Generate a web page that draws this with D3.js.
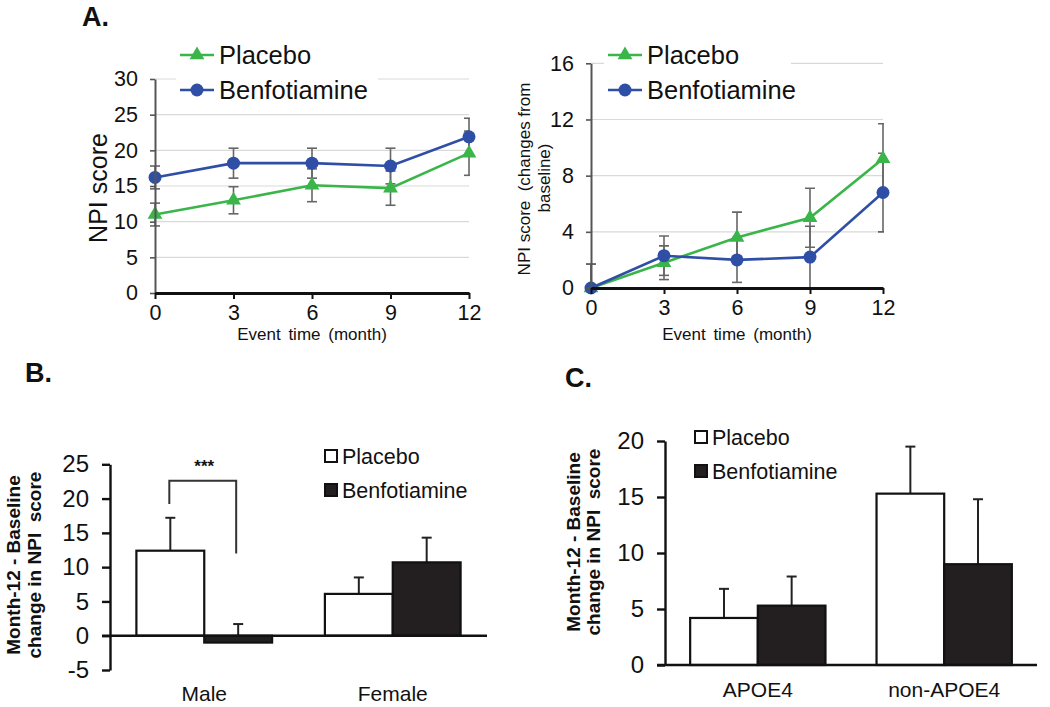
<!DOCTYPE html>
<html>
<head>
<meta charset="utf-8">
<script src="https://cdn.jsdelivr.net/npm/d3@7"></script>
<style>
  html, body { margin: 0; padding: 0; background: #fff; }
  svg { display: block; }
  text { font-family: "Liberation Sans", Arial, Helvetica, sans-serif; fill: #111; }
</style>
</head>
<body>
<svg id="chart" width="1050" height="707"></svg>
<script>
// ---------------- data ----------------
const months = [0, 3, 6, 9, 12];
const seriesNames = ["Placebo", "Benfotiamine"];

// Panel A (left): NPI score
const scorePlacebo = [11.0, 13.0, 15.1, 14.7, 19.6];
const scorePlaceboErr = [1.6, 1.9, 2.3, 2.4, 3.1];
const scoreBenfo = [16.2, 18.2, 18.2, 17.8, 21.9];
const scoreBenfoErr = [1.6, 2.1, 2.1, 2.5, 2.6];
const scoreTicks = [0, 5, 10, 15, 20, 25, 30];

// Panel A (right): change from baseline
const changePlacebo = [0, 1.8, 3.6, 5.0, 9.2];
const changePlaceboErr = [1.7, 1.2, 1.8, 2.1, 2.5];
const changeBenfo = [0, 2.3, 2.0, 2.2, 6.8];
const changeBenfoErr = [1.7, 1.4, 1.6, 2.2, 2.8];
const changeTicks = [0, 4, 8, 12, 16];

// Panel B: by sex
const sexGroups = ["Male", "Female"];
const sexPlacebo = [12.4, 6.1];
const sexPlaceboErr = [4.8, 2.4];
const sexBenfo = [-1.0, 10.7];
const sexBenfoErr = [2.7, 3.6];
const sexTicks = [-5, 0, 5, 10, 15, 20, 25];

// Panel C: by APOE4 status
const apoeGroups = ["APOE4", "non-APOE4"];
const apoePlacebo = [4.2, 15.3];
const apoePlaceboErr = [2.6, 4.2];
const apoeBenfo = [5.3, 9.0];
const apoeBenfoErr = [2.6, 5.8];
const apoeTicks = [0, 5, 10, 15, 20];

// ---------------- drawing ----------------
const FONT = '"Liberation Sans", Arial, Helvetica, sans-serif';
const GREEN = "#3ab54a", BLUE = "#2f4ea6", ERR = "#666";
const plain = d => String(d);
const svg = d3.select("#chart");

// panel letters
[["A.", 82, 26], ["B.", 25, 382], ["C.", 565, 387]].forEach(([t, x, y]) => {
  svg.append("text").attr("x", x).attr("y", y).attr("font-size", 27)
    .attr("font-weight", "bold").text(t);
});

function linePanel(cfg) {
  const g = svg.append("g");
  const x = d3.scaleLinear().domain([0, 12]).range(cfg.xr);
  const y = d3.scaleLinear().domain(cfg.ydom).range(cfg.yr);
  const id = "clip" + cfg.key;
  svg.append("defs").append("clipPath").attr("id", id).append("rect")
    .attr("x", cfg.xr[0] - 20).attr("y", cfg.yr[1] - 10)
    .attr("width", cfg.xr[1] - cfg.xr[0] + 21).attr("height", cfg.yr[0] - cfg.yr[1] + 10);

  // gridlines
  g.append("g").selectAll("line").data(cfg.ticks.filter(d => d !== 0)).join("line")
    .attr("x1", cfg.xr[0]).attr("x2", cfg.xr[1])
    .attr("y1", d => y(d)).attr("y2", d => y(d))
    .attr("stroke", "#d9d9d9").attr("stroke-width", 1.2);

  // legend background (covers gridline)
  g.append("rect").attr("x", cfg.legX - 4).attr("y", 34)
    .attr("width", cfg.legW).attr("height", 72).attr("fill", "#fff");

  const series = [
    { vals: cfg.placebo, err: cfg.placeboErr, color: GREEN, sym: "tri" },
    { vals: cfg.benfo, err: cfg.benfoErr, color: BLUE, sym: "circ" }
  ];

  // error bars
  const eg = g.append("g").attr("clip-path", `url(#${id})`);
  series.forEach(s => {
    months.forEach((m, i) => {
      const cx = x(m), lo = y(s.vals[i] - s.err[i]), hi = y(s.vals[i] + s.err[i]);
      eg.append("line").attr("x1", cx).attr("x2", cx).attr("y1", lo).attr("y2", hi)
        .attr("stroke", ERR).attr("stroke-width", 1.6);
      [lo, hi].forEach(yy => eg.append("line").attr("x1", cx - 5).attr("x2", cx + 5)
        .attr("y1", yy).attr("y2", yy).attr("stroke", ERR).attr("stroke-width", 1.6));
    });
  });

  // lines & markers
  const line = d3.line().x((d, i) => x(months[i])).y(d => y(d));
  series.forEach(s => {
    g.append("path").datum(s.vals).attr("d", line).attr("fill", "none")
      .attr("stroke", s.color).attr("stroke-width", 2.6);
  });
  series.forEach(s => {
    s.vals.forEach((v, i) => drawMarker(g, s.sym, x(months[i]), y(v), s.color));
  });

  // axes
  const ya = g.append("g").attr("transform", `translate(${cfg.xr[0]},0)`)
    .call(d3.axisLeft(y).tickValues(cfg.ticks).tickFormat(plain).tickSize(5).tickSizeOuter(0).tickPadding(12));
  ya.select(".domain").attr("stroke", "#555").attr("stroke-width", 2);
  ya.selectAll(".tick line").attr("stroke", "#555").attr("stroke-width", 1.6);
  ya.selectAll("text").attr("font-size", 21.5).attr("font-family", FONT).attr("fill", "#111");

  const xa = g.append("g").attr("transform", `translate(0,${cfg.yr[0]})`)
    .call(d3.axisBottom(x).tickValues(months).tickFormat(plain).tickSize(6).tickSizeOuter(0).tickPadding(6));
  xa.select(".domain").attr("stroke", "#111").attr("stroke-width", 2.8);
  xa.selectAll(".tick line").attr("stroke", "#111").attr("stroke-width", 2);
  xa.selectAll("text").attr("font-size", 21.5).attr("font-family", FONT).attr("fill", "#111");

  g.append("text").attr("x", (cfg.xr[0] + cfg.xr[1]) / 2).attr("y", 340)
    .attr("text-anchor", "middle").attr("font-size", 17).attr("word-spacing", 3)
    .text("Event time (month)");

  // legend
  series.forEach((s, i) => {
    const ly = 55 + i * 35;
    g.append("line").attr("x1", cfg.legX).attr("x2", cfg.legX + 34)
      .attr("y1", ly).attr("y2", ly).attr("stroke", s.color).attr("stroke-width", 2.6);
    drawMarker(g, s.sym, cfg.legX + 17, ly, s.color);
    g.append("text").attr("x", cfg.legX + 39).attr("y", ly + 8.5)
      .attr("font-size", 25.5).text(seriesNames[i]);
  });
  return g;
}

function drawMarker(g, sym, cx, cy, color) {
  if (sym === "circ") {
    g.append("circle").attr("cx", cx).attr("cy", cy).attr("r", 6.5).attr("fill", color);
  } else {
    g.append("path").attr("d", d3.symbol(d3.symbolTriangle, 95)())
      .attr("transform", `translate(${cx},${cy})`).attr("fill", color);
  }
}

linePanel({ key: "L", xr: [155, 469], yr: [293, 79], ydom: [0, 30], ticks: scoreTicks,
  placebo: scorePlacebo, placeboErr: scorePlaceboErr, benfo: scoreBenfo, benfoErr: scoreBenfoErr,
  legX: 180, legW: 202 });
svg.append("text").attr("transform", "translate(107,188) rotate(-90)")
  .attr("text-anchor", "middle").attr("font-size", 25).text("NPI score");

linePanel({ key: "R", xr: [591, 883], yr: [288, 63.3], ydom: [0, 16], ticks: changeTicks,
  placebo: changePlacebo, placeboErr: changePlaceboErr, benfo: changeBenfo, benfoErr: changeBenfoErr,
  legX: 608, legW: 187 });
svg.append("text").attr("transform", "translate(530,179) rotate(-90)")
  .attr("text-anchor", "middle").attr("font-size", 17).attr("xml:space", "preserve")
  .text("NPI score  (changes from");
svg.append("text").attr("transform", "translate(550,178) rotate(-90)")
  .attr("text-anchor", "middle").attr("font-size", 17).text("baseline)");

// ---------- bar panels ----------
function barPanel(cfg) {
  const g = svg.append("g");
  const x = d3.scaleBand().domain(cfg.groups).range(cfg.xr).paddingInner(cfg.pin).paddingOuter(cfg.pout);
  const xs = d3.scaleBand().domain(seriesNames).range([0, x.bandwidth()]);
  const y = d3.scaleLinear().domain(cfg.ydom).range(cfg.yr);

  const data = [];
  cfg.groups.forEach((grp, i) => {
    data.push({ grp, s: "Placebo", v: cfg.placebo[i], e: cfg.placeboErr[i] });
    data.push({ grp, s: "Benfotiamine", v: cfg.benfo[i], e: cfg.benfoErr[i] });
  });

  // error bars (upward)
  data.forEach(d => {
    const cx = x(d.grp) + xs(d.s) + xs.bandwidth() / 2;
    g.append("line").attr("x1", cx).attr("x2", cx).attr("y1", y(d.v)).attr("y2", y(d.v + d.e))
      .attr("stroke", "#222").attr("stroke-width", 2);
    g.append("line").attr("x1", cx - 5).attr("x2", cx + 5).attr("y1", y(d.v + d.e)).attr("y2", y(d.v + d.e))
      .attr("stroke", "#222").attr("stroke-width", 2);
  });

  // bars
  g.selectAll("rect.bar").data(data).join("rect").attr("class", "bar")
    .attr("x", d => x(d.grp) + xs(d.s))
    .attr("width", xs.bandwidth())
    .attr("y", d => y(Math.max(0, d.v)))
    .attr("height", d => Math.abs(y(d.v) - y(0)))
    .attr("fill", d => d.s === "Placebo" ? "#fff" : "#231f20")
    .attr("stroke", "#111").attr("stroke-width", 2.2);

  // y axis
  const ya = g.append("g").attr("transform", `translate(${cfg.xr[0]},0)`)
    .call(d3.axisLeft(y).tickValues(cfg.ticks).tickFormat(plain).tickSize(8).tickSizeOuter(0).tickPadding(13));
  ya.select(".domain").attr("stroke", "#111").attr("stroke-width", 2.4);
  ya.selectAll(".tick line").attr("stroke", "#111").attr("stroke-width", 2.4);
  ya.selectAll("text").attr("font-size", 24).attr("font-family", FONT).attr("fill", "#111");

  // zero line
  g.append("line").attr("x1", cfg.xr[0] - 8).attr("x2", cfg.xr[1])
    .attr("y1", y(0)).attr("y2", y(0)).attr("stroke", "#111").attr("stroke-width", 2.4);

  // category labels
  cfg.groups.forEach(grp => {
    g.append("text").attr("x", x(grp) + x.bandwidth() / 2).attr("y", cfg.catY)
      .attr("text-anchor", "middle").attr("font-size", 21).text(grp);
  });

  // legend
  seriesNames.forEach((nm, i) => {
    const ly = cfg.legY + i * 34;
    g.append("rect").attr("x", cfg.legX).attr("y", ly - 12).attr("width", 12).attr("height", 12)
      .attr("fill", i === 0 ? "#fff" : "#231f20").attr("stroke", "#111").attr("stroke-width", 2);
    g.append("text").attr("x", cfg.legX + 17).attr("y", ly + 2).attr("font-size", 21.5).text(nm);
  });

  // y label
  cfg.ylab.forEach((t, i) => {
    g.append("text").attr("transform", `translate(${cfg.ylabX[i]},${cfg.ylabY}) rotate(-90)`)
      .attr("text-anchor", "middle").attr("font-size", 19).attr("font-weight", "bold")
      .attr("xml:space", "preserve").text(t);
  });
  return { g, x, xs, y };
}

const B = barPanel({ groups: sexGroups, xr: [110, 487], pin: 0.28, pout: 0.14, yr: [670, 464.3], ydom: [-5, 25],
  ticks: sexTicks, placebo: sexPlacebo, placeboErr: sexPlaceboErr, benfo: sexBenfo, benfoErr: sexBenfoErr,
  catY: 701, legX: 325, legY: 462, ylab: ["Month-12 - Baseline", "change in NPI  score"],
  ylabX: [20, 41], ylabY: 565 });

// significance bracket for Male
{
  const xa = B.x("Male") + B.xs("Placebo") + B.xs.bandwidth() / 2;
  const xb = B.x("Male") + B.xs("Benfotiamine") + B.xs.bandwidth() / 2;
  const yTop = B.y(22.6);
  B.g.append("path")
    .attr("d", `M${xa - 1},${B.y(19.2)} V${yTop} H${xb - 2} V${B.y(12)}`)
    .attr("fill", "none").attr("stroke", "#333").attr("stroke-width", 2);
  B.g.append("text").attr("x", (xa + xb) / 2).attr("y", 472).attr("text-anchor", "middle")
    .attr("font-size", 17).attr("font-weight", "bold").text("***");
}

barPanel({ groups: apoeGroups, xr: [665, 1037], pin: 0.274, pout: 0.135, yr: [665, 441], ydom: [0, 20],
  ticks: apoeTicks, placebo: apoePlacebo, placeboErr: apoePlaceboErr, benfo: apoeBenfo, benfoErr: apoeBenfoErr,
  catY: 697, legX: 695, legY: 443, ylab: ["Month-12 - Baseline", "change in NPI  score"],
  ylabX: [580, 600], ylabY: 542 });
</script>
</body>
</html>
